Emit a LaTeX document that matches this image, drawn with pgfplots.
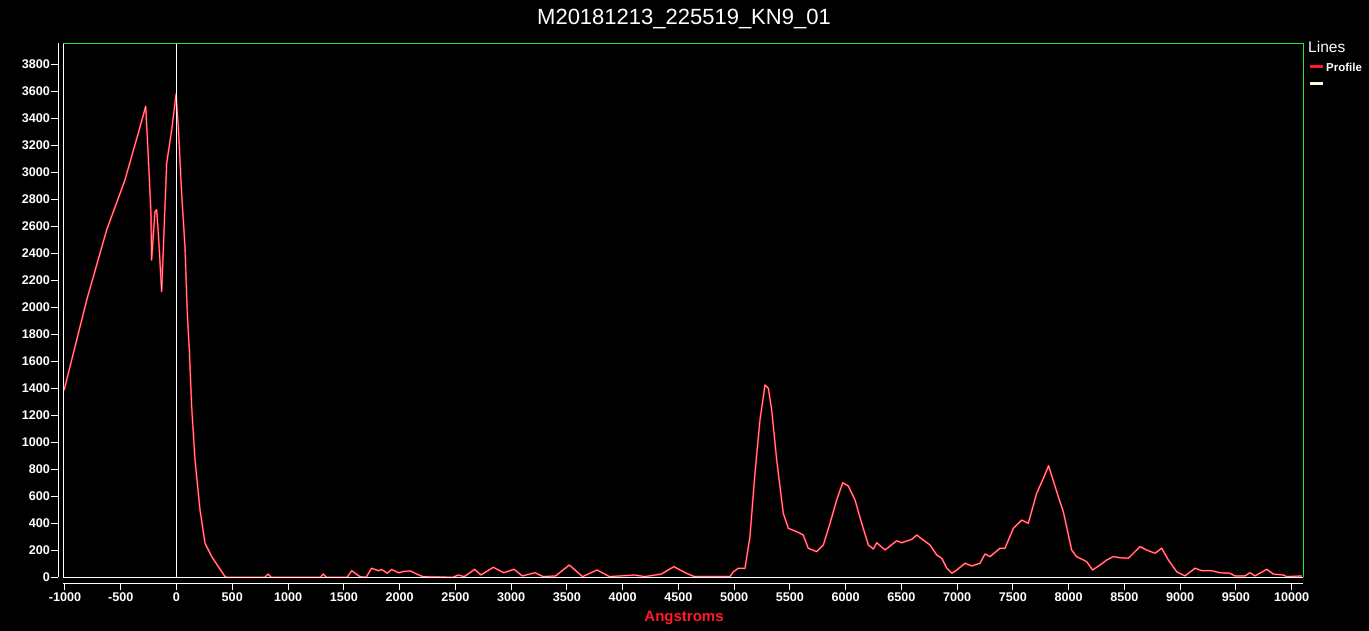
\documentclass[border=0pt]{standalone}
\usepackage{fontspec}
\setmainfont{Liberation Sans}
\usepackage{pgfplots}
\usepackage{pgfplotstable}
\pgfplotsset{compat=1.18}

\definecolor{greenframe}{RGB}{40,230,40}
\definecolor{prof}{RGB}{255,25,45}
\definecolor{profcore}{RGB}{255,200,200}
\definecolor{cream}{RGB}{255,250,210}

% profile, Angstroms vs intensity
\pgfplotstableread{
x y
-1008 1385
-805 2054
-626 2573
-462 2943
-343 3289
-276 3488
-253 3116
-229 2696
-223 2350
-193 2708
-178 2721
-163 2550
-133 2116
-88 3067
-43 3313
-4 3580
16 3338
46 2844
76 2449
97 1956
115 1684
136 1264
166 869
211 499
256 251
316 153
375 79
435 5
450 0
790 0
823 24
850 0
1290 0
1316 24
1345 0
1530 0
1571 49
1645 5
1700 0
1750 67
1810 49
1840 58
1890 30
1930 58
1990 34
2035 43
2097 47
2155 24
2208 5
2480 0
2525 17
2581 5
2674 59
2729 17
2841 74
2934 34
3027 59
3101 10
3214 34
3288 5
3399 10
3522 91
3641 5
3771 54
3883 5
4106 17
4199 5
4348 24
4460 79
4571 30
4645 5
4963 5
4993 41
5038 67
5098 67
5142 301
5187 770
5232 1165
5277 1424
5307 1400
5337 1239
5382 869
5441 474
5486 363
5561 338
5620 313
5665 215
5740 190
5800 239
5860 400
5920 573
5974 701
6024 676
6084 573
6144 400
6204 239
6249 210
6279 256
6354 202
6458 271
6503 256
6593 281
6638 313
6683 284
6757 239
6817 165
6862 141
6907 67
6952 30
6997 54
7071 104
7131 84
7205 104
7250 173
7295 153
7384 215
7429 215
7504 363
7579 424
7638 400
7713 622
7773 733
7820 826
7907 597
7952 486
8027 202
8071 153
8161 116
8215 54
8281 91
8341 128
8401 153
8461 145
8535 141
8580 178
8640 227
8700 202
8774 178
8834 215
8894 128
8969 41
9043 10
9133 67
9193 49
9282 49
9357 34
9446 30
9491 10
9581 10
9626 34
9671 10
9776 59
9835 24
9925 17
9955 5
10090 10
}\profile

\begin{document}
\begin{tikzpicture}
\fill[black] (-63.3bp,-53.7bp) rectangle (1305.7bp,577.3bp);
\begin{axis}[
    at={(0,0)}, anchor=south west,
    scale only axis,
    width=1240bp, height=534bp,
    xmin=-1015, xmax=10104,
    ymin=0, ymax=3955,
    axis x line*=bottom,
    axis y line*=left,
    x axis line style={white, line width=1.2bp, yshift=-6bp},
    y axis line style={white, line width=1.2bp, xshift=-4.8bp},
    tick align=outside,
    major tick length=7bp,
    scaled ticks=false,
    xtick={-1000,-500,...,10000},
    ytick={0,200,...,3800},
    xtick style={white, line width=1bp, yshift=-6bp},
    ytick style={white, line width=1bp, xshift=-4.8bp},
    xticklabel={\pgfmathtruncatemacro\tk{\tick}\tk},
    yticklabel={\pgfmathtruncatemacro\tk{\tick}\tk},
    xticklabel style={white, font=\fontsize{12.6bp}{14bp}\selectfont\bfseries, yshift=-6bp, inner sep=2bp},
    yticklabel style={white, font=\fontsize{12.6bp}{14bp}\selectfont\bfseries, xshift=-4.8bp, inner sep=1.5bp},
    clip=false,
]
\addplot[prof, line width=1.8bp, line join=round] table[x=x, y=y] {\profile};
\addplot[profcore, line width=0.5bp, line join=round] table[x=x, y=y] {\profile};
\draw[white, line width=1bp] (axis cs:0,0) -- (axis cs:0,3955);
\end{axis}
% plot frame: left and bottom white, top and right green
\draw[white, line width=1bp] (0,534bp) -- (0,0) -- (1240bp,0);
\draw[greenframe, line width=1.4bp] (0,534bp) -- (1240bp,534bp) -- (1240bp,0);
% title, axis label, legend
\node[white, font=\fontsize{22bp}{26bp}\selectfont] at (620.7bp,558.3bp) {M20181213\_225519\_KN9\_01};
\node[prof, font=\fontsize{15bp}{18bp}\selectfont\bfseries] at (620.7bp,-40.7bp) {Angstroms};
\node[white, anchor=west, inner sep=0pt, font=\fontsize{15.5bp}{18bp}\selectfont] at (1244.7bp,530.3bp) {Lines};
\draw[prof, line width=3bp] (1246.7bp,510.3bp) -- (1259.7bp,510.3bp);
\node[white, anchor=west, inner sep=0pt, font=\fontsize{11.5bp}{14bp}\selectfont\bfseries] at (1262.7bp,510.3bp) {Profile};
\draw[cream, line width=3bp] (1246.7bp,493.3bp) -- (1259.7bp,493.3bp);
\pgfresetboundingbox
\path[use as bounding box] (-63.3bp,-53.7bp) rectangle (1305.7bp,577.3bp);
\end{tikzpicture}
\end{document}
